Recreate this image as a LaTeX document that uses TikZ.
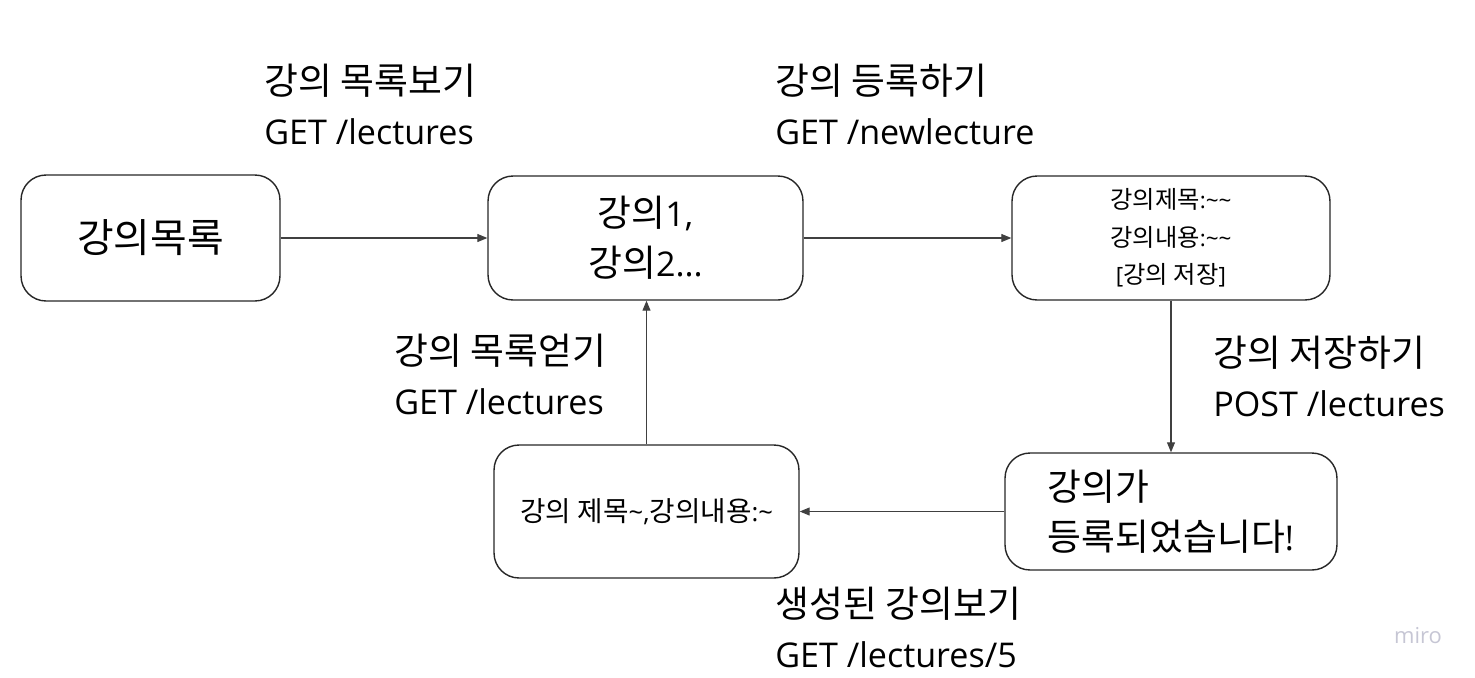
\documentclass[tikz,border=0pt]{standalone}
\usepackage{fontspec}
\setmainfont{Open Sans}
\newfontfamily\kr[Scale=1.08]{Noto Sans CJK KR}
\usepackage{tikz}
\usetikzlibrary{arrows.meta,positioning}
\definecolor{mirogray}{HTML}{C6C6D4}
% hangul syllables go to the CJK font
\XeTeXinterchartokenstate=1
\newXeTeXintercharclass\hangulclass
\count255="AC00
\loop\XeTeXcharclass\count255=\hangulclass
\ifnum\count255<"D7A3 \advance\count255 by 1 \repeat
\XeTeXinterchartoks 0 \hangulclass = {\kr}
\XeTeXinterchartoks 4095 \hangulclass = {\kr}
\XeTeXinterchartoks \hangulclass 0 = {\rmfamily}
\XeTeXinterchartoks \hangulclass 4095 = {\rmfamily}

\begin{document}
\begin{tikzpicture}[x=0.02cm,y=-0.02cm,
		blk/.style={draw=black!85,line width=0.8pt,rounded corners=0.5cm,align=center,inner sep=0pt,minimum height=2.48cm},
		big/.style={font=\fontsize{19.4}{28.45}\selectfont},
		lbl/.style={big,align=left,anchor=north west,inner sep=0pt},
		con/.style={draw=black!75,line width=0.6pt,-{Triangle[length=0.2cm,width=0.16cm]}}]
	\useasboundingbox (0,0) rectangle (1475,677);
	% boxes
	\node[blk,big,minimum width=5.18cm,minimum height=2.52cm,font=\fontsize{21}{28.45}\selectfont] (list) at (150.5,238) {강의목록};
	\node[blk,big,minimum width=6.3cm] (lectures) at (645.5,238) {강의1,\\강의2...};
	\node[blk,minimum width=6.36cm,font=\fontsize{12.8}{21.3}\selectfont] (form) at (1171,238) {강의제목:\textasciitilde\textasciitilde\\강의내용:\textasciitilde\textasciitilde\\{}[강의 저장]};
	\node[blk,big,align=left,minimum width=6.64cm,minimum height=2.34cm] (done) at (1171,511.5) {강의가\\등록되었습니다!};
	\node[blk,minimum width=6.1cm,minimum height=2.66cm,font=\fontsize{14.6}{20}\selectfont] (detail) at (646.5,511.5) {강의 제목\textasciitilde,강의내용:\textasciitilde};
	% arrows
	\draw[con] (list) -- (lectures);
	\draw[con] (lectures) -- (form);
	\draw[con] (form) -- (done);
	\draw[con] (done) -- (detail);
	\draw[con] (detail.north) -- (detail.north |- lectures.south);
	% labels
	\node[lbl] (lblList) at (264,64) {강의 목록보기\\GET /lectures};
	\node[lbl] (lblNew) at (775,64) {강의 등록하기\\GET /newlecture};
	\node[lbl] (lblSave) at (1213,336) {강의 저장하기\\POST /lectures};
	\node[lbl] (lblGet) at (394,334) {강의 목록얻기\\GET /lectures};
	\node[lbl] (lblShow) at (775,587) {생성된 강의보기\\GET /lectures/5};
	\node[text=mirogray,font=\fontsize{12.5}{14}\selectfont] (logo) at (1418,636) {miro};
\end{tikzpicture}
\end{document}
